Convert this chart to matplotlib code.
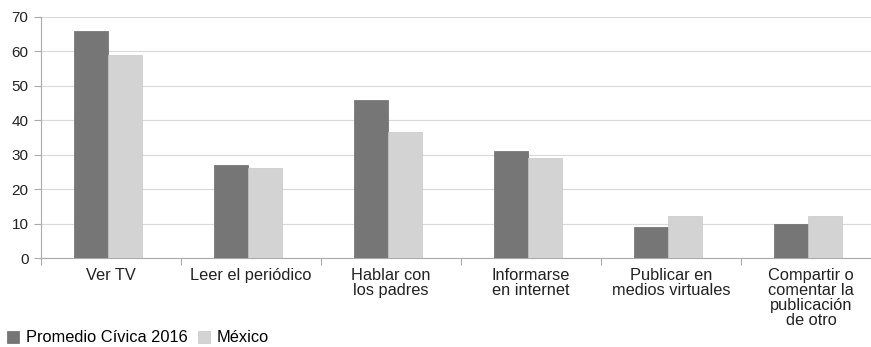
import numpy as np
import matplotlib.pyplot as plt

plt.rcParams['font.family'] = ['Liberation Sans', 'DejaVu Sans']

categorias = ['Ver TV', 'Leer el periódico', 'Hablar con\nlos padres',
              'Informarse\nen internet', 'Publicar en\nmedios virtuales',
              'Compartir o\ncomentar la\npublicación\nde otro']
promedio = [66, 27, 46, 31, 9, 10]
mexico = [59, 26, 36.5, 29, 12.3, 12.3]
series = ['Promedio Cívica 2016', 'México']

fig = plt.figure(figsize=(8.71, 3.47), dpi=100)
ax = fig.add_axes([41/871, 89/347, 840/871, 241/347])

x = np.arange(len(categorias))
w = 0.243
ax.bar(x - 0.02 - w/2, promedio, w, color='#767676', edgecolor='#6a6a6a', linewidth=0.5, label=series[0], zorder=3)
ax.bar(x - 0.02 + w/2, mexico, w, color='#d3d3d3', edgecolor='#c8c8c8', linewidth=0.5, label=series[1], zorder=3)

ax.set_xlim(-0.5, len(categorias) - 0.5)
ax.set_ylim(0, 70)
ax.set_yticks(range(0, 71, 10))
ax.grid(axis='y', color='#d9d9d9', linewidth=0.8, zorder=0)

ax.set_xticks(np.arange(len(categorias) + 1) - 0.5)
ax.set_xticklabels([])
ax.set_xticks(x, minor=True)
ax.set_xticklabels(categorias, minor=True, fontsize=11.8, linespacing=1.02, color='#222222')
ax.tick_params(axis='x', which='major', length=5, color='#aaaaaa')
ax.tick_params(axis='x', which='minor', length=0, pad=7)
ax.tick_params(axis='y', length=5, color='#aaaaaa', labelsize=11, labelcolor='#222222', pad=4)

for s in ['top', 'right']:
    ax.spines[s].set_visible(False)
for s in ['left', 'bottom']:
    ax.spines[s].set_color('#aaaaaa')
    ax.spines[s].set_linewidth(0.8)

fig.legend(loc='lower left', bbox_to_anchor=(-0.005, -0.028), ncol=2, frameon=False,
           fontsize=11.8, handlelength=0.75, handleheight=0.75, handletextpad=0.4,
           columnspacing=0.6, borderpad=0.2)

fig.savefig('out.png', dpi=100)
